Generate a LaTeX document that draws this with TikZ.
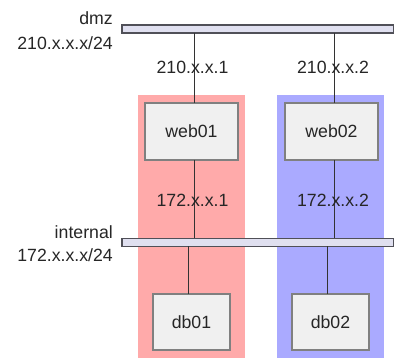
\documentclass[tikz,border=0pt]{standalone}
\usepackage{fontspec}
\setmainfont{Liberation Sans}
\usetikzlibrary{positioning, calc}
\definecolor{netbar}{HTML}{E0E0F0}
\definecolor{netline}{HTML}{505058}
\definecolor{hostfill}{HTML}{F0F0F0}
\definecolor{hostline}{HTML}{808080}
\definecolor{groupred}{HTML}{FFAAAA}
\definecolor{groupblue}{HTML}{AAAAFF}

\begin{document}
\begin{tikzpicture}[
    x=1pt, y=-1pt,
    font=\fontsize{17.7}{20}\selectfont,
    % --- styles ---
    group/.style={
      rectangle, inner sep=0pt, outer sep=0pt,
      minimum width=107pt, minimum height=263pt},
    netbus/.style={
      draw=netline, fill=netbar, line width=1.6pt,
      rectangle, inner sep=0pt, outer sep=0pt,
      minimum width=272pt, minimum height=8pt},
    host/.style={
      draw=hostline, fill=hostfill, line width=1.2pt,
      rectangle, inner sep=0pt, outer sep=0pt, text=black!85},
    webhost/.style={host, minimum width=93pt, minimum height=57pt},
    dbhost/.style={host, minimum width=77pt, minimum height=56pt},
    addr/.style={text=black!85, inner sep=1pt},
    netlabel/.style={anchor=east, text=black!85, inner sep=0pt},
    link/.style={line width=1pt, color=black!80},
  ]
  \useasboundingbox (0,0) rectangle (394,358);

  % ── Groups (background) ──
  \node[group, fill=groupred]  (grpa) at (191,226.5)   {};
  \node[group, fill=groupblue] (grpb) at (330.5,226.5) {};

  % ── Networks ──
  \node[netbus] (dmz)      at (258,29)  {};
  \node[netbus] (internal) at (258,242.5) {};
  \node[netlabel] (dmzname) at (113,18)  {dmz};
  \node[netlabel] (dmzaddr) at (113,43)  {210.x.x.x/24};
  \node[netlabel] (intname) at (113,232) {internal};
  \node[netlabel] (intaddr) at (113,255) {172.x.x.x/24};

  % ── Hosts ──
  \node[webhost] (web01) at (191.5,131.5) {web01};
  \node[webhost, right=47pt of web01] (web02) {web02};
  \node[dbhost]  (db01)  at (191.5,322)   {db01};
  \node[dbhost, right=62pt of db01]  (db02)  {db02};

  % ── Links ──
  \draw[link] ([xshift=2.5]web01.north) -- ([xshift=2.5]web01.north |- dmz.south);
  \draw[link] ([xshift=2.5]web02.north) -- ([xshift=2.5]web02.north |- dmz.south);
  \draw[link] ([xshift=2.5]web01.south) -- ([xshift=2.5]web01.south |- internal.north);
  \draw[link] ([xshift=2.5]web02.south) -- ([xshift=2.5]web02.south |- internal.north);
  \draw[link] ([xshift=-3.5]db01.north) -- ([xshift=-3.5]db01.north |- internal.south);
  \draw[link] ([xshift=-3.5]db02.north) -- ([xshift=-3.5]db02.north |- internal.south);

  % ── Addresses ──
  \node[addr] (web01dmz) at (192.5,67)  {210.x.x.1};
  \node[addr] (web02dmz) at (333,67)    {210.x.x.2};
  \node[addr] (web01int) at (192.5,200) {172.x.x.1};
  \node[addr] (web02int) at (333,200)   {172.x.x.2};

\end{tikzpicture}
\end{document}
